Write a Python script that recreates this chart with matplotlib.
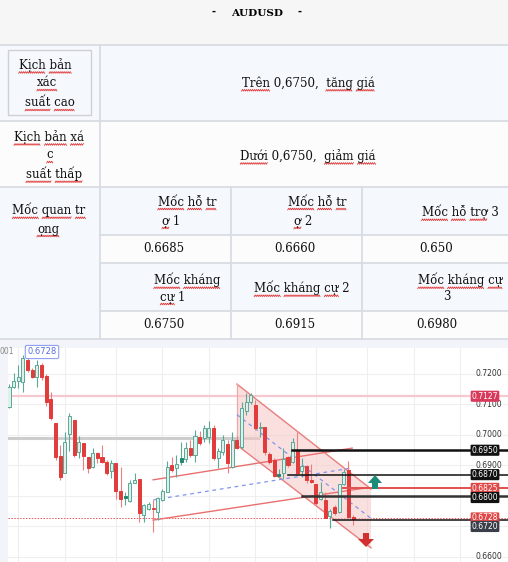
import matplotlib
matplotlib.use('Agg')
from matplotlib import pyplot as plt
from matplotlib.patches import Rectangle, Polygon
import numpy as np

W, H = 508, 562

# ---- table content ----
title = 'AUDUSD'
scenario_text = [
    (45, 65, 'Kịch bản'), (47, 83, 'xác'), (50, 103, 'suất cao'),
    (308, 83, 'Trên 0,6750,  tăng giá'),
    (49, 137, 'Kịch bản xá'), (50, 155, 'c'), (54, 174, 'suất thấp'),
    (308, 156, 'Dưới 0,6750,  giảm giá'),
    (49, 210, 'Mốc quan tr'), (48, 229, 'ọng'),
]
header_text = [
    (187, 202, 'Mốc hỗ tr'), (171, 221, 'ợ 1'),
    (317, 202, 'Mốc hỗ tr'), (303, 221, 'ợ 2'),
    (460, 212, 'Mốc hỗ trợ 3'),
    (187, 280, 'Mốc kháng'), (173, 297, 'cự 1'),
    (302, 288, 'Mốc kháng cự 2'),
    (460, 280, 'Mốc kháng cự'), (447, 297, '3'),
]
support_levels = ['0.6685', '0.6660', '0.650']
resistance_levels = ['0.6750', '0.6915', '0.6980']

# ---- candle data ----
opens = [0.7093, 0.7158, 0.7177, 0.7173, 0.7246, 0.7213, 0.7191, 0.7229, 0.7193, 0.7117,
         0.7040, 0.6932, 0.6876, 0.7002, 0.7049, 0.6943, 0.6973, 0.6929, 0.6896, 0.6940,
         0.6929, 0.6910, 0.6882, 0.6907, 0.6817, 0.6792, 0.6784, 0.6841, 0.6856, 0.6738,
         0.6759, 0.6762, 0.6749, 0.6787, 0.6814, 0.6902, 0.6891, 0.6913, 0.6921, 0.6956,
         0.6934, 0.6994, 0.6991, 0.6994, 0.7022, 0.6923, 0.6945, 0.6969, 0.6896, 0.6984,
         0.6962, 0.7079, 0.7109, 0.7098, 0.7022, 0.7027, 0.6938, 0.6918, 0.6867, 0.6876,
         0.6927, 0.6913, 0.6951, 0.6882, 0.6899, 0.6852, 0.6838, 0.6789, 0.6787, 0.6734,
         0.6765, 0.6749, 0.6838, 0.6885, 0.6732]
highs = [0.7166, 0.7202, 0.7229, 0.7262, 0.7251, 0.7219, 0.7246, 0.7235, 0.7199, 0.7140,
         0.7040, 0.6967, 0.7011, 0.7073, 0.7049, 0.6998, 0.6973, 0.6929, 0.6956, 0.6943,
         0.6967, 0.6918, 0.6918, 0.6907, 0.6896, 0.6814, 0.6852, 0.6876, 0.6856, 0.6774,
         0.6781, 0.6787, 0.6798, 0.6823, 0.6915, 0.6929, 0.6934, 0.6978, 0.6976, 0.6984,
         0.7016, 0.7013, 0.7033, 0.7047, 0.7033, 0.6956, 0.7000, 0.6984, 0.7009, 0.6998,
         0.7109, 0.7137, 0.7137, 0.7115, 0.7044, 0.7027, 0.6943, 0.6923, 0.6888, 0.6956,
         0.6931, 0.6989, 0.7009, 0.6923, 0.6902, 0.6904, 0.6838, 0.6845, 0.6814, 0.6759,
         0.6770, 0.6838, 0.6888, 0.6915, 0.6738]
lows = [0.7087, 0.7153, 0.7153, 0.7140, 0.7208, 0.7186, 0.7158, 0.7180, 0.7096, 0.7049,
        0.6918, 0.6852, 0.6876, 0.6948, 0.6929, 0.6926, 0.6885, 0.6874, 0.6891, 0.6907,
        0.6907, 0.6869, 0.6858, 0.6790, 0.6765, 0.6770, 0.6781, 0.6841, 0.6716, 0.6716,
        0.6754, 0.6683, 0.6721, 0.6784, 0.6812, 0.6880, 0.6863, 0.6902, 0.6913, 0.6929,
        0.6913, 0.6967, 0.6976, 0.6973, 0.6918, 0.6893, 0.6934, 0.6874, 0.6893, 0.6954,
        0.6954, 0.7065, 0.7100, 0.7016, 0.6994, 0.6934, 0.6904, 0.6863, 0.6863, 0.6856,
        0.6896, 0.6907, 0.6869, 0.6863, 0.6841, 0.6841, 0.6770, 0.6787, 0.6727, 0.6696,
        0.6738, 0.6743, 0.6836, 0.6727, 0.6705]
closes = [0.7158, 0.7177, 0.7189, 0.7253, 0.7213, 0.7189, 0.7229, 0.7189, 0.7109, 0.7057,
          0.6929, 0.6861, 0.6978, 0.7062, 0.6934, 0.6976, 0.6932, 0.6893, 0.6940, 0.6923,
          0.6913, 0.6876, 0.6907, 0.6817, 0.6790, 0.6801, 0.6844, 0.6852, 0.6743, 0.6770,
          0.6773, 0.6757, 0.6792, 0.6816, 0.6896, 0.6885, 0.6904, 0.6926, 0.6956, 0.6934,
          0.6997, 0.6973, 0.7024, 0.7022, 0.6926, 0.6948, 0.6984, 0.6907, 0.6984, 0.6956,
          0.7087, 0.7109, 0.7131, 0.7024, 0.7027, 0.6943, 0.6913, 0.6867, 0.6872, 0.6920,
          0.6902, 0.6976, 0.6874, 0.6899, 0.6852, 0.6845, 0.6778, 0.6814, 0.6727, 0.6752,
          0.6743, 0.6838, 0.6878, 0.6732, 0.6725]
solid_green = [25, 37, 58]   # small filled teal candles

# drawn objects on the chart
desc_x = [49.0, 77.85]
desc_upper = [0.7167, 0.6823]
desc_lower = [0.6967, 0.6630]
asc_x = [31.0, 73.8]
asc_upper = [0.6853, 0.6957]
asc_mid = [0.6787, 0.6892]
asc_lower_x = [31.0, 76.5]
asc_lower = [0.6721, 0.6826]

levels = [0.6950, 0.6870, 0.6800, 0.6720]
level_start = [60.9, 60.0, 63.0, 69.7]
target_up = 0.6825
last_price = 0.6728
prev_high = 0.7127
gray_level = 0.6990

price_ticks = [0.7200, 0.7100, 0.7000, 0.6900, 0.6800, 0.6700, 0.6600]
shown_ticks = [0.7200, 0.7100, 0.7000, 0.6900, 0.6600]
date_grid = [2, 12, 23, 33, 43, 53, 66, 77, 87, 97]

SERIF = 'DejaVu Serif'

fig = plt.figure(figsize=(W / 100, H / 100), dpi=100)
fig.patch.set_facecolor('#f6f6f6')

bg = fig.add_axes([0, 0, 1, 1])
bg.set_xlim(0, W)
bg.set_ylim(H, 0)
bg.axis('off')

fills = [
    (0, 0, W, 45, '#f6f6f6'),
    (0, 45, W, 76, '#f5f8fd'),
    (0, 121, W, 66, '#fcfcfc'),
    (0, 187, 100, 152, '#f5f8fd'),
    (100, 187, 408, 48, '#f5f8fd'),
    (100, 235, 408, 28, '#fcfcfc'),
    (100, 263, 408, 48, '#f5f8fd'),
    (100, 311, 408, 28, '#fcfcfc'),
    (0, 339, W, 223, '#f2f4f9'),
]
for x, y, w, h, c in fills:
    bg.add_patch(Rectangle((x, y), w, h, facecolor=c, edgecolor='none'))

lc = '#d9dce3'
for y in [45, 121, 187, 339]:
    bg.plot([0, W], [y, y], color=lc, lw=1.3)
for y in [235, 263, 311]:
    bg.plot([100, W], [y, y], color=lc, lw=1.3)
bg.plot([100, 100], [45, 339], color=lc, lw=1.3)
for x in [231, 362]:
    bg.plot([x, x], [187, 339], color=lc, lw=1.3)
bg.add_patch(Rectangle((8, 50), 83, 65, facecolor='none', edgecolor='#d0d0d0', lw=1))

# title
bg.text(257, 13, title, ha='center', va='center', fontsize=7.5, fontweight='bold', family=SERIF)
bg.text(213, 12, '-', ha='center', va='center', fontsize=7, fontweight='bold')
bg.text(300, 12, '-', ha='center', va='center', fontsize=7, fontweight='bold')

renderer = fig.canvas.get_renderer()


def squiggle(x0, x1, y):
    xs = np.arange(x0, x1 + 0.01, 1.0)
    ys = y + 0.9 * np.where(np.arange(len(xs)) % 2 == 0, 1, -1)
    bg.plot(xs, ys, color='#e03a3a', lw=0.6, solid_joinstyle='miter')


def put_text(x, y, s):
    t = bg.text(x, y, s, ha='center', va='center', fontsize=8.5, family=SERIF, color='#111')
    bb = t.get_window_extent(renderer=renderer)
    prop = t.get_fontproperties()
    y_line = H - bb.y0 + 0.5
    pos = 0
    for word in s.split(' '):
        if word == '':
            pos += 1
            continue
        end = pos + len(word)
        if any(ch.isalpha() for ch in word):
            w_end, _, _ = renderer.get_text_width_height_descent(s[:end], prop, ismath=False)
            w_word, _, _ = renderer.get_text_width_height_descent(word, prop, ismath=False)
            squiggle(bb.x0 + w_end - w_word, bb.x0 + w_end, y_line)
        pos = end + 1


for x, y, s in scenario_text + header_text:
    put_text(x, y, s)
for x, s in zip([164, 295, 436], support_levels):
    put_text(x, 249, s)
for x, s in zip([164, 295, 437], resistance_levels):
    put_text(x, 325, s)

# ---- candlestick chart ----
ax = fig.add_axes([8 / W, 0, 500 / W, 214 / H])
ax.set_facecolor('white')
for sp in ax.spines.values():
    sp.set_visible(False)
ax.set_xticks([])
ax.set_yticks([])
ax.set_xlim(-0.215, 107.31)
ax.set_ylim(0.65836, 0.72852)

for p in price_ticks:
    ax.axhline(p, color='#efefef', lw=0.8, zorder=0)
for g in date_grid:
    ax.axvline(g, color='#efefef', lw=0.8, zorder=0)

ax.plot([-0.2, 53.5], [gray_level, gray_level], color='#cdcdcd', lw=2.2, zorder=1)
ax.axhline(prev_high, color='#f6c9d1', lw=1.6, zorder=1)
ax.axhline(last_price, color='#e85a5a', lw=0.7, ls=(0, (1.5, 1.5)), zorder=1)

# descending channel
poly = Polygon([(desc_x[0], desc_upper[0]), (desc_x[1], desc_upper[1]),
                (desc_x[1], desc_lower[1]), (desc_x[0], desc_lower[0])],
               facecolor='#f7c6c6', alpha=0.55, edgecolor='none', zorder=1)
ax.add_patch(poly)
ax.plot(desc_x, desc_upper, color='#ea7d7d', lw=1.0, zorder=2)
ax.plot(desc_x, desc_lower, color='#ea7d7d', lw=1.0, zorder=2)
ax.plot([desc_x[0], desc_x[0]], [desc_upper[0], desc_lower[0]], color='#f0a5a5', lw=0.8, zorder=2)
ax.plot(desc_x, [(desc_upper[0] + desc_lower[0]) / 2, (desc_upper[1] + desc_lower[1]) / 2],
        color='#7f95f0', lw=0.9, ls=(0, (3, 3)), zorder=2)

# ascending channel
ax.plot(asc_x, asc_upper, color='#ea6f6f', lw=1.0, zorder=2)
ax.plot(asc_lower_x, asc_lower, color='#ea6f6f', lw=1.0, zorder=2)
ax.plot(asc_x, asc_mid, color='#7f95f0', lw=0.9, ls=(0, (3, 3)), zorder=2)

# candles
for i, (o, h, l, c) in enumerate(zip(opens, highs, lows, closes)):
    up = c >= o
    if i in solid_green:
        face, edge, wick = '#1f8a70', '#1f8a70', '#5aa897'
    elif up:
        face, edge, wick = '#dff0eb', '#5aa897', '#5aa897'
    else:
        face, edge, wick = '#e23b3b', '#e23b3b', '#ee7f7f'
    ax.vlines(i, l, h, color=wick, lw=0.8, zorder=3)
    bot = min(o, c)
    ht = max(abs(c - o), 0.00025)
    ax.add_patch(Rectangle((i - 0.33, bot), 0.66, ht, facecolor=face, edgecolor=edge, lw=0.7, zorder=4))

# support / resistance lines
for lv, xs in zip(levels, level_start):
    lw = 1.8 if lv in (0.6950, 0.6800) else 1.1
    col = '#333333' if lv == 0.6800 else '#111111'
    ax.plot([xs, 107.3], [lv, lv], color=col, lw=lw, zorder=5)
ax.plot([71.8, 107.3], [target_up, target_up], color='#e25050', lw=1.4, zorder=5)

ytr = ax.get_yaxis_transform()
for p in shown_ticks:
    ax.text(0.935, p, '%.4f' % p, transform=ytr, ha='left', va='center',
            fontsize=5.5, color='#333333', zorder=6)

tag_values = [prev_high, 0.6950, 0.6870, target_up, 0.6800, last_price, 0.6720]
tag_pos = [prev_high, 0.6950, 0.6870, target_up, 0.6795, last_price, 0.6700]
tag_colors = ['#d93a5c', '#111111', '#111111', '#e04848', '#111111', '#e04848', '#3a3e49']
for v, pos, c in zip(tag_values, tag_pos, tag_colors):
    ax.text(0.954, pos, '%.4f' % v, transform=ytr, ha='center', va='center',
            fontsize=5.5, color='white', zorder=7,
            bbox=dict(boxstyle='round,pad=0.14,rounding_size=0.15', facecolor=c, edgecolor='none'))

# overlay in pixel coordinates
ov = fig.add_axes([0, 0, 1, 1], zorder=10)
ov.set_xlim(0, W)
ov.set_ylim(H, 0)
ov.axis('off')
ov.patch.set_alpha(0)
ov.add_patch(Polygon([(368, 483), (382, 483), (375, 475)], facecolor='#1e8a7a', edgecolor='none'))
ov.add_patch(Rectangle((372, 483), 6, 6, facecolor='#1e8a7a', edgecolor='none'))
ov.add_patch(Rectangle((363, 533), 6, 6, facecolor='#d23030', edgecolor='none'))
ov.add_patch(Polygon([(358, 539), (374, 539), (366, 547)], facecolor='#d23030', edgecolor='none'))
ov.text(0, 352, '001', ha='left', va='center', fontsize=5.5, color='#888888')
ov.text(42, 352, '%.4f' % last_price, ha='center', va='center', fontsize=6, color='#5a6ee0',
        bbox=dict(boxstyle='round,pad=0.25,rounding_size=0.2', facecolor='white', edgecolor='#8fa0f0', lw=0.8))

fig.savefig('out.png', dpi=100)
